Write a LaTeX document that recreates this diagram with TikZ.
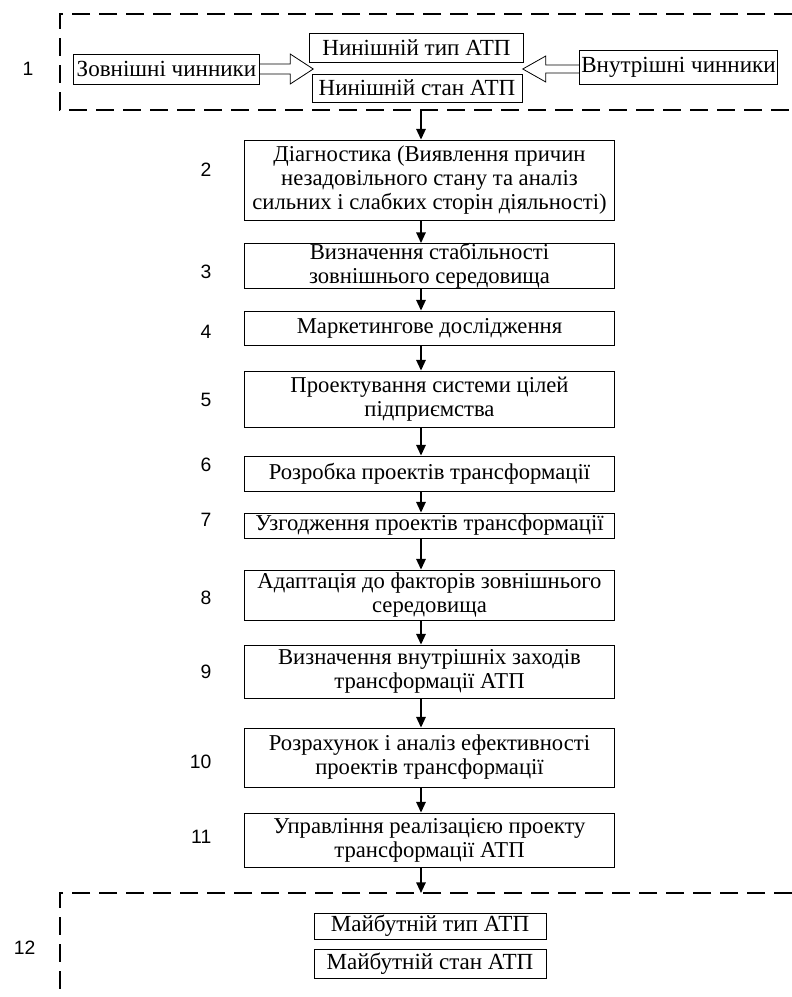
\documentclass[tikz,border=0pt]{standalone}
\usepackage{fontspec}
\setmainfont{Liberation Serif}
\newfontfamily\numfont{Liberation Sans}
\usetikzlibrary{arrows.meta,calc}

\begin{document}
\begin{tikzpicture}[x=0.75pt,y=-0.75pt,
    stepbox/.style={draw, line width=0.6pt, inner sep=0pt, align=center,
      minimum width=278pt, font=\fontsize{17pt}{18pt}\selectfont},
    statebox/.style={draw, line width=0.6pt, inner sep=0pt, align=center,
      font=\fontsize{17.3pt}{18pt}\selectfont},
    numlabel/.style={anchor=east, font=\numfont\fontsize{14.5pt}{16pt}\selectfont},
    flow/.style={line width=1.4pt, -{Triangle[length=8pt,width=7pt]}},
    stage/.style={line width=2.2pt, dash pattern=on 13.5pt off 6.75pt},
    blockarrow/.style={draw, line width=0.6pt, fill=white}]
    \useasboundingbox (0,0) rectangle (792,997);
    % етап 1: нинішній стан
    \draw[stage] (792,14) -- (60,14) -- (60,110) -- (792,110);
    \node[numlabel] (n1) at (38,69) {1};
    \node[statebox, minimum width=140pt, minimum height=22.5pt] (ext) at (166.5,69) {Зовнішні чинники};
    \node[statebox, minimum width=160pt, minimum height=21.75pt] (curtype) at (416.5,47.5) {Нинішній тип АТП};
    \node[statebox, minimum width=157.5pt, minimum height=21pt] (curstate) at (417,88) {Нинішній стан АТП};
    \node[statebox, minimum width=149pt, minimum height=25.5pt] (int) at (678.5,67) {Внутрішні чинники};
    \draw[blockarrow] ($(ext.east)+(0,-5)$) -- ++(30,0) -- ++(0,-10) -- ++(23,15)
      -- ++(-23,15) -- ++(0,-10) -- ($(ext.east)+(0,5)$);
    \draw[blockarrow] ($(int.west)+(0,-2)$) -- ++(-33,0) -- ++(0,-9) -- ++(-23,13)
      -- ++(23,13) -- ++(0,-9) -- ($(int.west)+(0,6)$);
    % етапи 2--11
    \coordinate (ax) at (421,0);
    \node[stepbox, minimum height=60pt] (b2) at (429.5,180) {Діагностика (Виявлення причин\\незадовільного стану та аналіз\\сильних і слабких сторін діяльності)};
    \node[stepbox, minimum height=31.5pt] (b3) at (429.5,266) {Визначення стабільності\\зовнішнього середовища};
    \node[stepbox, minimum height=25.5pt] (b4) at (429.5,328) {Маркетингове дослідження};
    \node[stepbox, minimum height=42pt] (b5) at (429.5,399) {Проектування системи цілей\\підприємства};
    \node[stepbox, minimum height=26.25pt] (b6) at (429.5,473.5) {Розробка проектів трансформації};
    \node[stepbox, minimum height=18.75pt] (b7) at (429.5,525.5) {Узгодження проектів трансформації};
    \node[stepbox, minimum height=37.5pt] (b8) at (429.5,595) {Адаптація до факторів зовнішнього\\середовища};
    \node[stepbox, minimum height=39.75pt] (b9) at (429.5,671.5) {Визначення внутрішніх заходів\\трансформації АТП};
    \node[stepbox, minimum height=44.25pt] (b10) at (429.5,757.5) {Розрахунок і аналіз ефективності\\проектів трансформації};
    \node[stepbox, minimum height=40.5pt] (b11) at (429.5,840) {Управління реалізацією проекту\\трансформації АТП};
    \node[numlabel] (n2) at (216,170) {2};
    \node[numlabel] (n3) at (216,272) {3};
    \node[numlabel] (n4) at (216,332) {4};
    \node[numlabel] (n5) at (216,400) {5};
    \node[numlabel] (n6) at (216,465) {6};
    \node[numlabel] (n7) at (216,520) {7};
    \node[numlabel] (n8) at (216,598) {8};
    \node[numlabel] (n9) at (216,672) {9};
    \node[numlabel] (n10) at (216,762) {10};
    \node[numlabel] (n11) at (216,837) {11};
    \coordinate (topout) at (421,110);
    \coordinate (botin) at (421,893);
    \draw[flow] (topout) -- (b2.north -| ax);
    \foreach \a/\b in {b2/b3,b3/b4,b4/b5,b5/b6,b6/b7,b7/b8,b8/b9,b9/b10,b10/b11}
      \draw[flow] (\a.south -| ax) -- (\b.north -| ax);
    \draw[flow] (b11.south -| ax) -- (botin);
    % етап 12: майбутній стан
    \draw[stage] (792,893) -- (60,893) -- (60,997);
    \node[numlabel] (n12) at (40,948) {12};
    \node[statebox, minimum width=174pt, minimum height=19.5pt] (futtype) at (430,926) {Майбутній тип АТП};
    \node[statebox, minimum width=174pt, minimum height=21.75pt] (futstate) at (430,963.5) {Майбутній стан АТП};
\end{tikzpicture}
\end{document}
